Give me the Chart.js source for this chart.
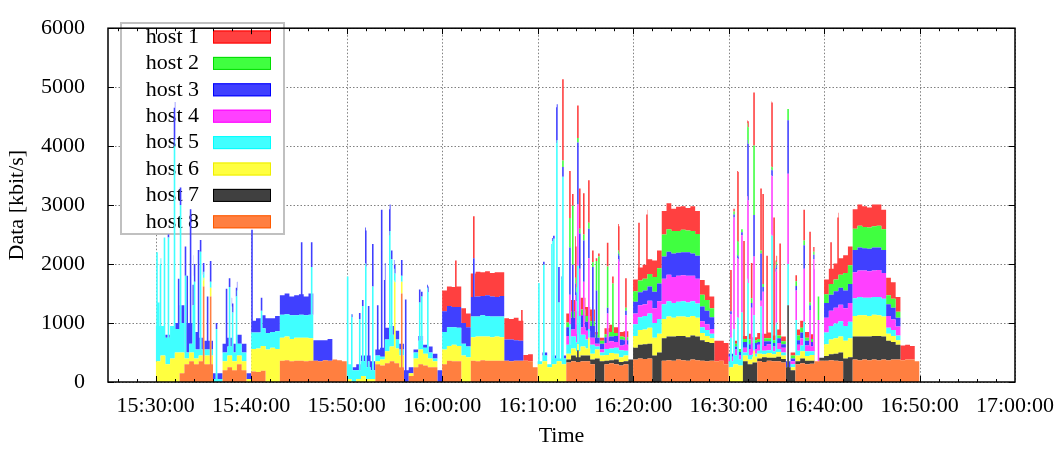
<!DOCTYPE html>
<html lang="en">
<head>
    <meta charset="UTF-8">
    <title>Host traffic</title>
    <script src="https://cdn.jsdelivr.net/npm/chart.js"></script>
    <style>
        html, body { margin: 0; padding: 0; background: #fff; }
    </style>
</head>
<body>
<canvas id="trafficChart" width="1058" height="449"></canvas>
<script>
// time is counted in seconds after 15:30:00, one value per 30 s bin
const binSeconds = 30;
const spikeSeconds = 10;

const hostNames = ['host 1', 'host 2', 'host 3', 'host 4', 'host 5', 'host 6', 'host 7', 'host 8'];
const hostFill = ['#ff4040', '#40ff40', '#4040ff', '#ff40ff', '#40ffff', '#ffff40', '#404040', '#ff7f40'];
const hostEdge = ['#ff0000', '#00dd00', '#0000ff', '#ff00ff', '#00ffff', '#eeee00', '#000000', '#ff5a00'];

const xTickSeconds = [0, 600, 1200, 1800, 2400, 3000, 3600, 4200, 4800, 5400];
const xTickLabels = ['15:30:00', '15:40:00', '15:50:00', '16:00:00', '16:10:00', '16:20:00', '16:30:00', '16:40:00', '16:50:00', '17:00:00'];
const yTickValues = [0, 1000, 2000, 3000, 4000, 5000, 6000];

// base level per host, kbit/s, 30 s bins from 15:30:00 to 16:50:00
const host1 = [
    0,0,0,0,0,0,0,0,0,0, 0,0,0,0,0,0,0,0,0,0,
    0,0,0,0,0,0,0,0,0,0, 0,0,0,0,0,0,0,0,0,0,
    0,0,0,0,0,0,0,0,0,0, 0,0,0,0,0,0,0,0,0,0,
    350,330,340,350,250,230,400,420,400,410, 400,420,400,360,350,380,340,100,120,0,
    0,0,0,0,0,0,150,200,150,200, 150,200,50,50,100,120,100,80,100,0,
    200,220,240,250,280,300,400,440,380,410, 400,380,420,390,250,250,200,350,340,360,
    0,50,0,50,100,50,100,80,100,80, 100,80,0,50,100,120,100,80,0,0,
    250,260,270,280,300,320,330,360,350,340, 370,360,330,300,280,250,250,250,230,0
];
const host2 = [
    0,0,0,0,0,0,0,0,0,0, 0,0,0,0,0,0,0,0,0,0,
    0,0,0,0,0,0,0,0,0,0, 0,0,0,0,0,0,0,0,0,0,
    0,0,0,0,0,0,0,0,0,0, 0,0,0,0,0,0,0,0,0,0,
    0,0,0,0,0,0,0,0,0,0, 0,0,0,0,0,0,0,0,0,0,
    0,0,0,0,0,0,80,100,80,100, 100,80,50,50,50,80,50,50,50,0,
    180,200,200,210,250,260,370,380,380,370, 380,370,380,370,200,180,150,0,0,0,
    0,50,50,50,80,50,50,50,50,50, 50,50,0,50,80,80,50,50,0,0,
    150,180,200,220,300,320,360,370,360,360, 360,370,350,150,150,100,0,0,0,0
];
const host3 = [
    0,0,50,0,100,300,500,350,300,200, 150,150,100,100,150,150,150,150,150,100,
    200,240,220,250,230,260,330,350,320,340, 350,320,360,350,360,340,370,0,0,0,
    0,50,100,100,200,150,100,150,200,150, 150,100,200,100,50,80,50,100,80,200,
    350,360,340,350,350,330,330,340,330,350, 340,330,350,360,370,350,340,0,0,0,
    0,50,0,50,0,50,150,200,150,200, 150,200,100,100,100,80,100,100,80,0,
    200,220,230,240,280,300,380,390,400,390, 390,400,380,390,250,230,200,0,0,0,
    50,50,50,100,80,100,50,80,50,60, 80,60,100,50,80,100,80,80,0,0,
    250,270,280,290,300,320,380,390,380,380, 390,380,390,200,200,150,0,0,0,0
];
const host4 = [
    0,0,0,0,0,0,0,0,0,0, 0,0,0,0,0,0,0,0,0,0,
    0,0,0,0,0,0,0,0,0,0, 0,0,0,0,0,0,0,0,0,0,
    0,0,0,0,0,0,0,0,0,0, 0,0,0,0,0,0,0,0,0,0,
    0,0,0,0,0,0,0,0,0,0, 0,0,0,0,0,0,0,0,0,0,
    0,0,0,0,0,0,150,120,150,130, 150,120,50,50,100,120,100,80,100,0,
    180,200,200,220,250,300,430,450,440,440, 440,450,430,420,100,100,80,0,0,0,
    80,100,80,80,100,80,100,80,100,80, 100,80,0,50,100,120,100,80,0,0,
    250,260,270,280,300,320,440,450,460,450, 450,460,440,200,180,150,0,0,0,0
];
const host5 = [
    600,500,450,550,400,500,100,150,150,100, 100,100,50,50,150,150,150,200,150,0,
    280,270,300,280,270,300,390,380,400,380, 390,380,400,0,0,0,0,0,0,0,
    250,200,150,250,200,150,100,50,200,200, 150,100,0,0,100,150,100,100,50,0,
    300,320,300,310,200,180,350,340,360,350, 350,340,350,0,0,0,0,0,0,0,
    50,100,50,100,50,100,150,200,150,200, 150,150,50,50,100,80,100,120,80,0,
    200,220,230,240,250,250,250,260,250,250, 260,250,250,240,100,100,80,0,0,0,
    100,150,100,50,80,50,50,60,50,50, 50,50,0,50,80,100,80,60,0,0,
    200,230,250,260,250,280,300,310,300,310, 300,310,300,100,100,80,0,0,0,0
];
const host6 = [
    350,450,300,400,500,350,100,150,100,100, 150,150,0,0,150,200,150,150,150,50,
    380,400,420,550,580,560,390,400,380,390, 390,400,380,0,0,0,0,0,0,0,
    50,0,50,100,50,50,50,100,200,250, 250,200,0,50,150,250,200,150,100,0,
    250,250,280,260,450,420,400,420,400,410, 400,410,400,0,0,0,0,0,0,0,
    300,350,250,300,350,300,100,120,100,150, 120,100,150,100,100,120,100,80,100,0,
    200,250,250,270,300,320,330,340,320,330, 330,340,330,320,120,100,80,0,0,0,
    250,300,280,100,80,100,80,50,80,60, 80,60,0,50,100,120,80,100,0,0,
    200,250,260,270,300,320,350,360,360,350, 360,350,340,120,100,80,0,0,0,0
];
const host7 = [
    0,0,0,0,0,0,0,0,0,0, 0,0,0,0,0,0,0,0,0,0,
    0,0,0,0,0,0,0,0,0,0, 0,0,0,0,0,0,0,0,0,0,
    0,0,0,0,0,0,0,0,0,0, 0,0,0,0,0,0,0,0,0,0,
    0,0,0,0,0,0,0,0,0,0, 0,0,0,0,0,0,0,0,0,0,
    0,0,0,0,0,0,50,100,80,100, 100,80,400,350,60,50,80,60,50,380,
    200,230,250,250,450,500,380,400,410,400, 410,400,410,400,350,330,300,0,0,0,
    0,0,0,350,300,330,50,80,50,60, 80,60,250,200,50,80,60,50,0,50,
    80,100,120,150,400,420,390,400,390,400, 400,410,390,330,300,250,0,0,0,0
];
const host8 = [
    0,0,0,0,0,150,300,350,300,350, 300,300,0,0,200,250,200,300,200,0,
    180,170,190,0,0,0,360,370,350,360, 360,350,360,360,350,370,360,380,370,350,
    0,0,0,0,0,0,300,280,320,350, 320,250,0,100,250,300,280,250,250,0,
    300,360,350,350,0,0,360,350,370,360, 360,360,360,360,350,360,360,360,350,250,
    0,0,0,0,0,0,330,350,340,350, 350,300,0,0,300,320,300,280,300,0,
    380,400,390,400,0,0,360,370,360,380, 370,360,380,370,360,350,360,350,360,300,
    0,0,0,0,0,0,350,340,360,350, 350,330,0,0,300,320,300,310,350,360,
    360,370,360,350,0,0,380,370,380,370, 380,370,380,370,380,380,370,380,380,350
];

// short bursts: start second and the host level reached during the burst
const spikeTimes = [
    3,13,25,50,75,113,139,151,182,193,
    214,231,239,264,277,296,321,340,377,440,
    459,478,503,600,660,912,975,1201,1227,1277,
    1296,1315,1333,1359,1390,1415,1434,1466,1478,1497,
    1541,1566,1654,1667,1705,1881,1994,2296,2403,2434,
    2485,2497,2516,2529,2547,2554,2598,2616,2635,2648,
    2660,2685,2717,2742,2765,2780,2835,2868,2905,2950,
    3032,3082,3610,3629,3654,3679,3692,3717,3740,3755,
    3799,3812,3837,3868,3881,3895,3919,3969,4020,4070,
    4107,4132,4160,4239,4283
];
const spike1 = [
    0,0,0,0,0,0,0,0,0,0, 0,0,0,0,0,0,0,0,0,0,
    0,0,0,0,0,0,0,0,0,0, 0,0,0,0,0,0,0,0,0,0,
    0,0,0,0,0,790,710,520,0,0, 0,0,0,0,0,1380,800,0,700,550,
    680,700,720,0,0,0,400,0,450,500, 980,1090,700,0,1190,0,1660,0,600,900,
    1050,1530,1400,1100,2080,0,1560,0,0,520, 1200,0,0,710,1050
];
const spike2 = [
    0,0,0,0,0,0,0,0,0,0, 0,0,0,0,0,0,0,0,0,0,
    0,0,0,0,0,0,0,0,0,0, 0,0,0,0,0,0,0,0,0,0,
    0,0,0,0,0,0,0,0,0,0, 0,0,0,0,0,110,500,1000,0,0,
    0,0,0,0,500,1380,700,900,0,0, 0,0,0,0,240,0,0,280,0,1180,
    0,0,0,0,0,0,0,190,0,0, 0,0,400,0,0
];
const spike3 = [
    0,0,0,0,0,650,850,0,0,1300, 2280,0,0,1690,0,0,900,350,0,1080,
    0,0,0,1740,0,1230,420,0,0,0, 0,610,940,720,850,2490,1300,450,0,0,
    270,1400,220,0,0,0,990,0,0,0, 0,0,610,600,0,165,800,1100,0,1050,
    600,700,500,1200,900,0,0,0,0,0, 0,0,0,0,0,0,0,960,0,700,
    800,0,0,100,0,0,0,910,0,400, 0,0,0,0,0
];
const spike4 = [
    0,0,0,0,0,0,0,0,0,0, 0,0,0,0,0,0,0,0,0,0,
    0,0,0,0,0,0,0,0,0,0, 0,0,0,0,0,0,0,0,0,0,
    0,0,0,0,0,0,0,0,0,0, 0,0,0,0,0,0,500,0,700,1040,
    800,900,1200,0,0,0,600,0,1500,600, 0,0,400,1890,1000,1310,0,1400,800,1000,
    0,1000,0,1010,0,900,0,1530,500,900, 700,1560,700,0,0
];
const spike5 = [
    1850,1000,1650,2000,2150,3600,0,2500,1400,0, 0,800,1300,0,1760,0,0,0,900,0,
    1160,830,1100,0,600,0,1210,1740,1100,1020, 1190,1910,300,1570,0,0,0,1960,1480,0,
    0,0,800,900,1120,0,0,0,1380,1640, 2090,2130,3750,1000,1440,3180,500,0,0,1330,
    600,0,0,0,0,0,0,0,0,0, 0,0,500,600,800,900,0,1300,0,600,
    800,0,0,2010,0,500,0,700,600,500, 0,0,0,0,0
];
const spike6 = [
    0,0,0,0,0,0,0,0,0,0, 0,0,0,0,0,0,0,0,0,0,
    0,0,0,0,0,0,0,0,0,0, 0,0,0,0,0,0,0,0,0,1370,
    0,0,0,0,0,0,0,0,0,0, 0,0,0,0,0,0,0,0,0,0,
    0,0,300,0,0,0,0,0,0,0, 0,0,0,0,0,0,0,0,0,200,
    0,0,0,0,0,0,0,0,0,0, 0,0,0,0,0
];
const spike7 = [
    0,0,0,0,0,0,0,0,0,0, 0,0,0,0,0,0,0,0,0,0,
    0,0,0,0,0,0,0,0,0,0, 0,0,0,0,0,0,0,0,0,0,
    0,0,0,0,0,0,0,0,0,0, 0,0,0,0,0,0,0,0,0,200,
    0,0,0,0,0,0,0,0,0,0, 0,0,0,0,0,0,0,0,0,0,
    0,0,0,0,0,0,0,1300,0,0, 0,0,0,0,0
];
const spike8 = [
    0,0,0,0,0,0,0,0,0,0, 0,0,0,0,0,1620,0,1450,0,0,
    0,0,0,0,0,0,0,0,0,0, 0,0,0,0,0,0,0,0,0,0,
    1500,0,0,0,0,0,0,0,0,0, 0,0,0,0,0,0,0,0,0,0,
    0,0,0,0,0,0,0,0,0,0, 0,0,0,0,0,0,0,0,0,0,
    0,0,0,0,0,0,0,0,0,0, 0,0,0,0,0
];

const hostBase = [host1, host2, host3, host4, host5, host6, host7, host8];
const hostSpike = [spike1, spike2, spike3, spike4, spike5, spike6, spike7, spike8];

// every moment where some host changes level
const marks = new Set();
for (let i = 0; i <= host1.length; i++) marks.add(i * binSeconds);
spikeTimes.forEach(t => { marks.add(t); marks.add(t + spikeSeconds); });
const times = Array.from(marks).sort((a, b) => a - b);

function valueAt(h, t) {
    const bin = Math.floor(t / binSeconds);
    let v = (bin >= 0 && bin < hostBase[h].length) ? hostBase[h][bin] : 0;
    spikeTimes.forEach((s, k) => {
        if (t >= s && t < s + spikeSeconds) v = Math.max(v, hostSpike[h][k]);
    });
    return v;
}

// host 8 at the bottom, host 1 on top
const datasets = [];
for (let h = 7; h >= 0; h--) {
    datasets.push({
        label: hostNames[h],
        data: times.map(t => ({ x: t, y: valueAt(h, t) })),
        backgroundColor: hostFill[h],
        borderColor: 'rgba(0,0,0,0)',
        borderWidth: 0,
        pointRadius: 0,
        stepped: true,
        fill: h === 7 ? 'origin' : '-1'
    });
}

const serif = { family: "'Liberation Serif', 'DejaVu Serif', serif", size: 22 };

const gnuplotLook = {
    id: 'gnuplotLook',
    beforeDatasetsDraw(chart) {
        const { ctx, chartArea: a, scales: { x, y } } = chart;
        ctx.save();
        // dotted grid
        ctx.strokeStyle = '#808080';
        ctx.lineWidth = 1;
        ctx.setLineDash([1.5, 2]);
        xTickSeconds.forEach(v => {
            const px = Math.round(x.getPixelForValue(v)) + 0.5;
            ctx.beginPath(); ctx.moveTo(px, a.top); ctx.lineTo(px, a.bottom); ctx.stroke();
        });
        yTickValues.forEach(v => {
            const py = Math.round(y.getPixelForValue(v)) + 0.5;
            ctx.beginPath(); ctx.moveTo(a.left, py); ctx.lineTo(a.right, py); ctx.stroke();
        });
        ctx.setLineDash([]);
        // key box, drawn under the data like the original
        ctx.fillStyle = '#fff';
        ctx.fillRect(121, 23, 163, 211);
        ctx.strokeStyle = '#c0c0c0';
        ctx.lineWidth = 2;
        ctx.strokeRect(121, 23, 163, 211);
        ctx.font = serif.size + 'px ' + serif.family;
        ctx.textAlign = 'right';
        ctx.textBaseline = 'middle';
        hostNames.forEach((name, i) => {
            const cy = 37 + i * 26.4;
            ctx.fillStyle = '#000';
            ctx.fillText(name, 199, cy);
            ctx.fillStyle = hostFill[i];
            ctx.fillRect(213, cy - 6.5, 58, 13);
            ctx.strokeStyle = hostEdge[i];
            ctx.lineWidth = 1;
            ctx.strokeRect(213.5, cy - 6, 57, 12);
        });
        ctx.restore();
    },
    afterDatasetsDraw(chart) {
        const { ctx, chartArea: a, scales: { x, y } } = chart;
        ctx.save();
        ctx.strokeStyle = '#000';
        ctx.lineWidth = 1;
        // minor ticks every 2 minutes, major every 10
        for (let s = -240; s < 5400; s += 120) {
            const px = Math.round(x.getPixelForValue(s)) + 0.5;
            const len = s % 600 === 0 ? 6 : 3;
            ctx.beginPath();
            ctx.moveTo(px, a.bottom); ctx.lineTo(px, a.bottom - len);
            ctx.moveTo(px, a.top); ctx.lineTo(px, a.top + len);
            ctx.stroke();
        }
        yTickValues.forEach(v => {
            const py = Math.round(y.getPixelForValue(v)) + 0.5;
            ctx.beginPath();
            ctx.moveTo(a.left, py); ctx.lineTo(a.left + 6, py);
            ctx.moveTo(a.right, py); ctx.lineTo(a.right - 6, py);
            ctx.stroke();
        });
        ctx.lineWidth = 1.5;
        ctx.strokeRect(a.left, a.top, a.right - a.left, a.bottom - a.top);
        ctx.restore();
    }
};

new Chart(document.getElementById('trafficChart'), {
    type: 'line',
    data: { datasets: datasets },
    options: {
        responsive: false,
        animation: false,
        events: [],
        layout: { padding: { left: 0, right: 43, top: 20, bottom: 0 } },
        plugins: { legend: { display: false }, tooltip: { enabled: false } },
        elements: { line: { tension: 0 } },
        scales: {
            x: {
                type: 'linear',
                min: -300,
                max: 5400,
                afterBuildTicks: s => { s.ticks = xTickSeconds.map(v => ({ value: v })); },
                afterFit: s => { s.height = 67; },
                grid: { display: false },
                border: { display: false },
                ticks: {
                    autoSkip: false,
                    maxRotation: 0,
                    padding: 3,
                    color: '#000',
                    font: serif,
                    callback: v => xTickLabels[xTickSeconds.indexOf(v)]
                },
                title: { display: true, text: 'Time', color: '#000', font: serif, padding: { top: 0, bottom: 0 } }
            },
            y: {
                stacked: true,
                min: 0,
                max: 6000,
                afterBuildTicks: s => { s.ticks = yTickValues.map(v => ({ value: v })); },
                afterFit: s => { s.width = 108; },
                grid: { display: false },
                border: { display: false },
                ticks: { padding: 15, color: '#000', font: serif, callback: v => String(v) },
                title: { display: true, text: 'Data [kbit/s]', color: '#000', font: serif, padding: { top: 4, bottom: 0 } }
            }
        }
    },
    plugins: [gnuplotLook]
});
</script>
</body>
</html>
